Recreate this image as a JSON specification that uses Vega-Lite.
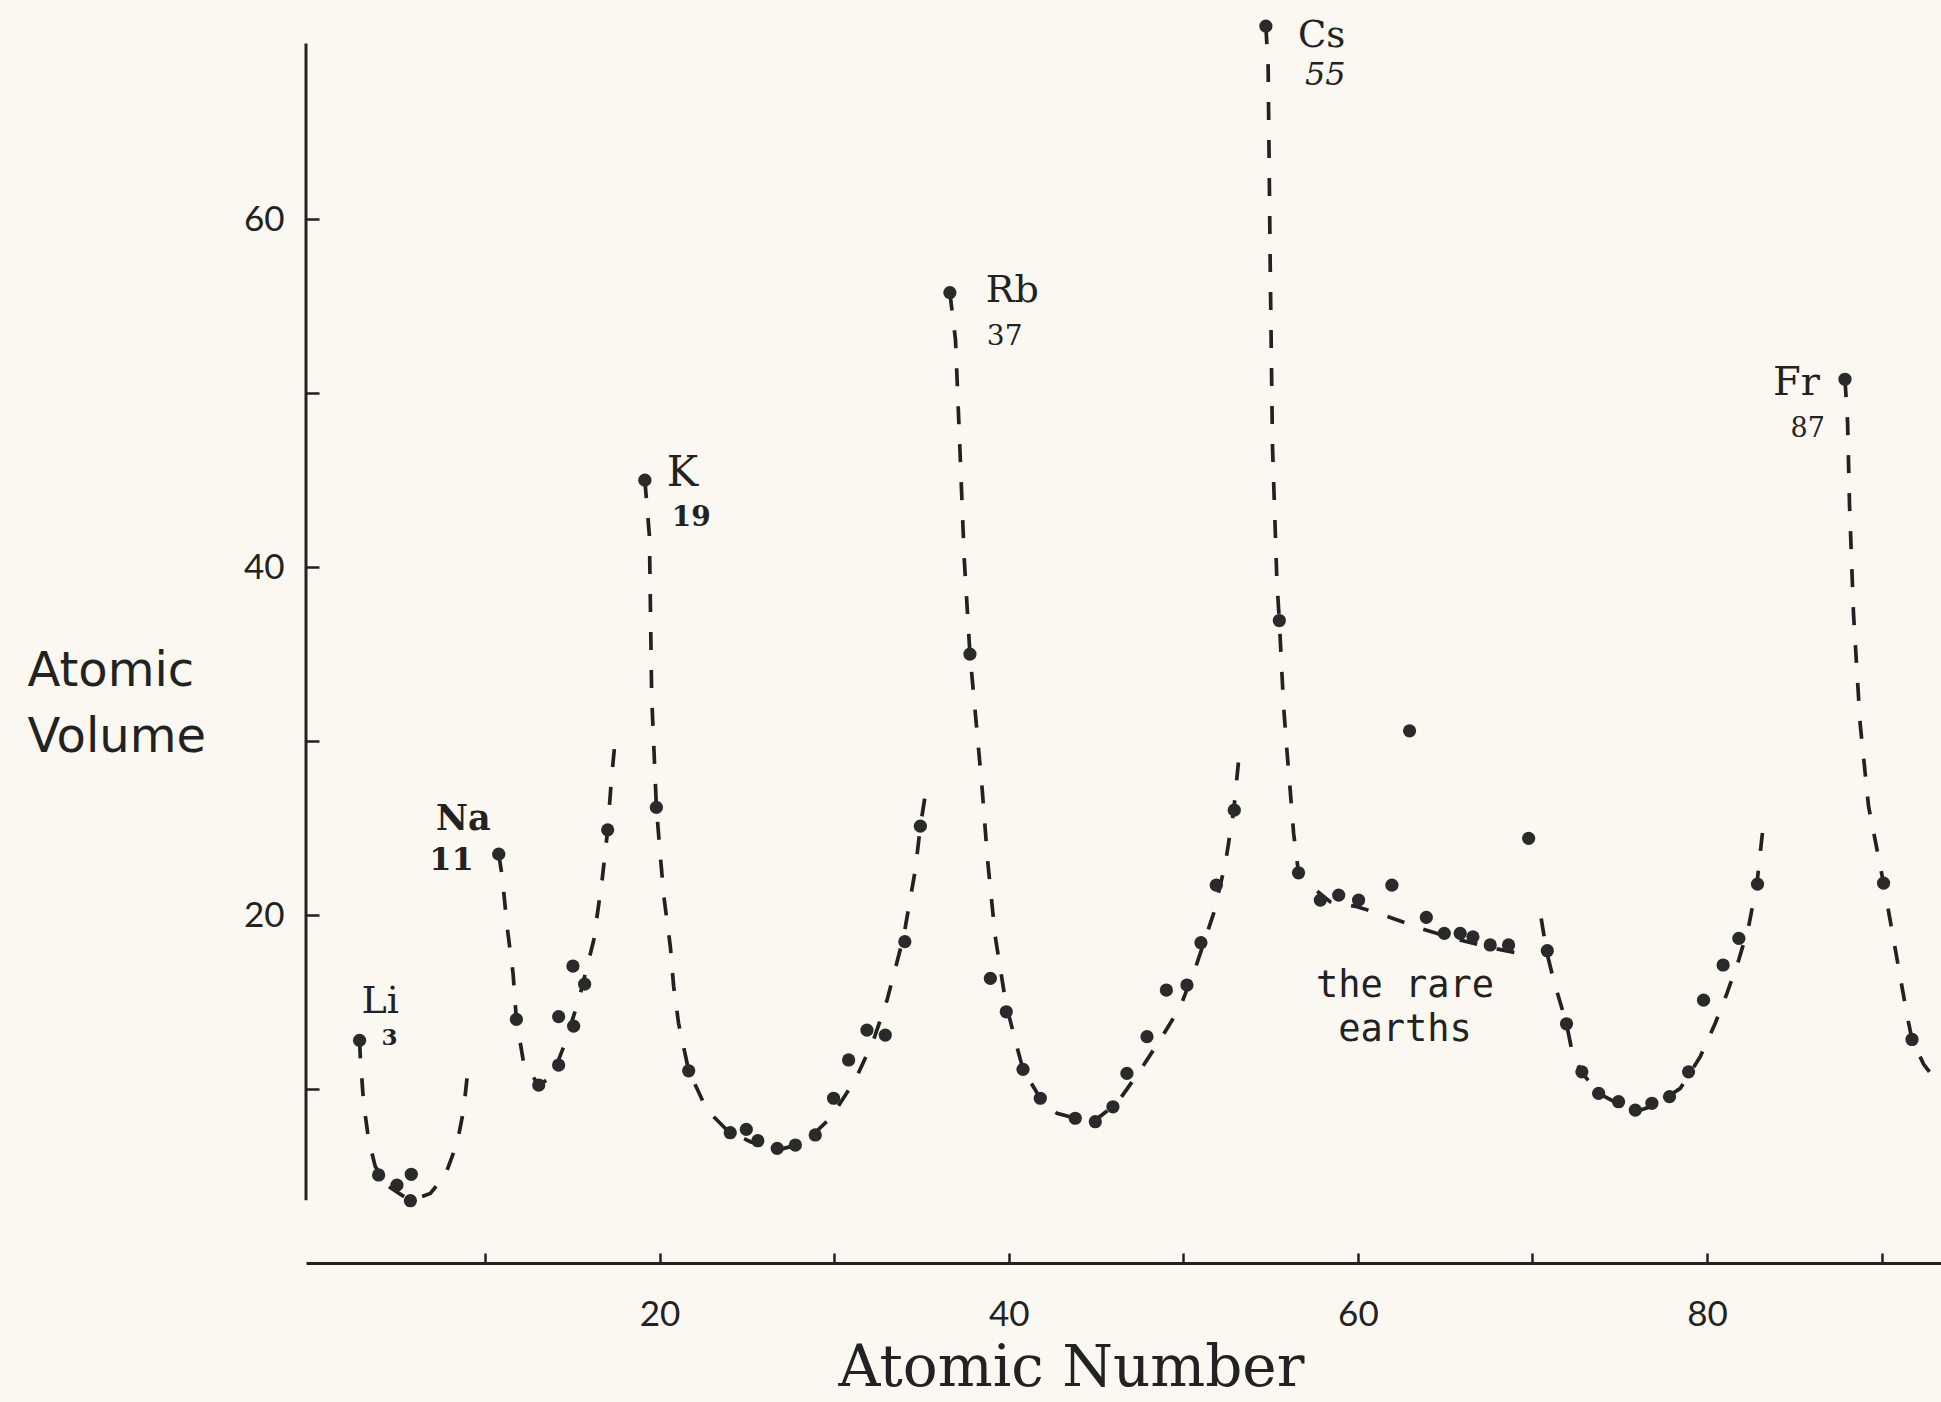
{
  "$schema": "https://vega.github.io/schema/vega-lite/v6.json",
  "width": 1635,
  "height": 1263,
  "autosize": {"type": "none"},
  "padding": {"left": 306, "top": 0, "right": 0, "bottom": 139},
  "background": "#faf8f0",
  "config": {"view": {"stroke": null}, "axis": {"grid": false}, "text": {"font": "DejaVu Serif", "color": "#222222", "baseline": "alphabetic"}},
  "datasets": {
    "points": [
      {"z": 2.82, "v": 12.8}, {"z": 3.91, "v": 5.06}, {"z": 4.96, "v": 4.48}, {"z": 5.78, "v": 5.1}, {"z": 5.73, "v": 3.58},
      {"z": 10.79, "v": 23.5}, {"z": 11.8, "v": 14.0}, {"z": 13.08, "v": 10.23}, {"z": 14.22, "v": 11.38}, {"z": 14.22, "v": 14.16},
      {"z": 15.08, "v": 13.62}, {"z": 15.04, "v": 17.07}, {"z": 15.71, "v": 16.03}, {"z": 17.03, "v": 24.9},
      {"z": 19.16, "v": 45.0}, {"z": 19.82, "v": 26.19}, {"z": 21.67, "v": 11.05}, {"z": 24.05, "v": 7.49}, {"z": 24.97, "v": 7.68},
      {"z": 25.63, "v": 7.03}, {"z": 26.74, "v": 6.59}, {"z": 27.78, "v": 6.78}, {"z": 28.92, "v": 7.36}, {"z": 29.97, "v": 9.47},
      {"z": 30.83, "v": 11.67}, {"z": 31.88, "v": 13.39}, {"z": 32.93, "v": 13.1}, {"z": 34.05, "v": 18.47}, {"z": 34.94, "v": 25.11},
      {"z": 36.63, "v": 55.78}, {"z": 37.78, "v": 35.0}, {"z": 38.95, "v": 16.36}, {"z": 39.86, "v": 14.44}, {"z": 40.82, "v": 11.13},
      {"z": 41.81, "v": 9.47}, {"z": 43.81, "v": 8.32}, {"z": 44.96, "v": 8.12}, {"z": 45.97, "v": 8.98}, {"z": 46.77, "v": 10.9},
      {"z": 47.92, "v": 13.01}, {"z": 49.03, "v": 15.69}, {"z": 50.21, "v": 15.98}, {"z": 51.01, "v": 18.41}, {"z": 51.89, "v": 21.72},
      {"z": 52.92, "v": 26.03},
      {"z": 54.73, "v": 71.1}, {"z": 55.5, "v": 36.93}, {"z": 56.6, "v": 22.43}, {"z": 57.85, "v": 20.86}, {"z": 58.9, "v": 21.15},
      {"z": 60.04, "v": 20.86}, {"z": 61.95, "v": 21.72}, {"z": 62.96, "v": 30.59}, {"z": 63.92, "v": 19.87}, {"z": 64.95, "v": 18.95},
      {"z": 65.86, "v": 18.95}, {"z": 66.59, "v": 18.75}, {"z": 67.58, "v": 18.28}, {"z": 68.63, "v": 18.28}, {"z": 69.78, "v": 24.41},
      {"z": 70.85, "v": 17.95}, {"z": 71.95, "v": 13.75}, {"z": 72.83, "v": 10.99}, {"z": 73.79, "v": 9.75}, {"z": 74.93, "v": 9.27},
      {"z": 75.89, "v": 8.79}, {"z": 76.84, "v": 9.18}, {"z": 77.85, "v": 9.56}, {"z": 78.94, "v": 10.99}, {"z": 79.8, "v": 15.11},
      {"z": 80.92, "v": 17.13}, {"z": 81.82, "v": 18.66}, {"z": 82.89, "v": 21.78},
      {"z": 87.9, "v": 50.8}, {"z": 90.11, "v": 21.84}, {"z": 91.74, "v": 12.85}
    ],
    "curves": [
      {"seg": "Li", "i": 0, "z": 2.82, "v": 12.8}, {"seg": "Li", "i": 1, "z": 2.86, "v": 11.86}, {"seg": "Li", "i": 2, "z": 3.05, "v": 9.18},
      {"seg": "Li", "i": 3, "z": 3.34, "v": 7.07}, {"seg": "Li", "i": 4, "z": 3.72, "v": 5.54}, {"seg": "Li", "i": 5, "z": 4.49, "v": 4.39},
      {"seg": "Li", "i": 6, "z": 5.73, "v": 3.58}, {"seg": "Li", "i": 7, "z": 6.87, "v": 4.0}, {"seg": "Li", "i": 8, "z": 7.73, "v": 5.06},
      {"seg": "Li", "i": 9, "z": 8.4, "v": 6.88}, {"seg": "Li", "i": 10, "z": 8.78, "v": 8.79}, {"seg": "Li", "i": 11, "z": 9.01, "v": 10.99},
      {"seg": "Na", "i": 0, "z": 10.79, "v": 23.5}, {"seg": "Na", "i": 1, "z": 10.99, "v": 22.2}, {"seg": "Na", "i": 2, "z": 11.27, "v": 19.33},
      {"seg": "Na", "i": 3, "z": 11.61, "v": 16.65}, {"seg": "Na", "i": 4, "z": 11.8, "v": 14.0}, {"seg": "Na", "i": 5, "z": 12.22, "v": 11.48},
      {"seg": "Na", "i": 6, "z": 13.08, "v": 10.23}, {"seg": "Na", "i": 7, "z": 13.84, "v": 10.71}, {"seg": "Na", "i": 8, "z": 14.51, "v": 12.43},
      {"seg": "Na", "i": 9, "z": 15.37, "v": 15.11}, {"seg": "Na", "i": 10, "z": 16.23, "v": 18.56}, {"seg": "Na", "i": 11, "z": 16.71, "v": 22.0},
      {"seg": "Na", "i": 12, "z": 17.03, "v": 24.9}, {"seg": "Na", "i": 13, "z": 17.24, "v": 27.76}, {"seg": "Na", "i": 14, "z": 17.41, "v": 29.54},
      {"seg": "K", "i": 0, "z": 19.16, "v": 45.0}, {"seg": "K", "i": 1, "z": 19.42, "v": 41.8}, {"seg": "K", "i": 2, "z": 19.55, "v": 32.56},
      {"seg": "K", "i": 3, "z": 19.82, "v": 26.19}, {"seg": "K", "i": 4, "z": 20.05, "v": 23.35}, {"seg": "K", "i": 5, "z": 20.25, "v": 21.05},
      {"seg": "K", "i": 6, "z": 20.62, "v": 18.18}, {"seg": "K", "i": 7, "z": 20.81, "v": 15.88}, {"seg": "K", "i": 8, "z": 21.09, "v": 13.78},
      {"seg": "K", "i": 9, "z": 21.67, "v": 11.05}, {"seg": "K", "i": 10, "z": 22.72, "v": 8.79}, {"seg": "K", "i": 11, "z": 23.86, "v": 7.64},
      {"seg": "K", "i": 12, "z": 25.2, "v": 6.97}, {"seg": "K", "i": 13, "z": 26.73, "v": 6.49}, {"seg": "K", "i": 14, "z": 28.26, "v": 6.88},
      {"seg": "K", "i": 15, "z": 29.78, "v": 8.32}, {"seg": "K", "i": 16, "z": 31.21, "v": 10.52}, {"seg": "K", "i": 17, "z": 32.26, "v": 12.82},
      {"seg": "K", "i": 18, "z": 33.03, "v": 15.11}, {"seg": "K", "i": 19, "z": 33.98, "v": 18.75}, {"seg": "K", "i": 20, "z": 34.65, "v": 22.59},
      {"seg": "K", "i": 21, "z": 34.94, "v": 25.11}, {"seg": "K", "i": 22, "z": 35.28, "v": 27.28},
      {"seg": "Rb", "i": 0, "z": 36.63, "v": 55.78}, {"seg": "Rb", "i": 1, "z": 36.95, "v": 53.09}, {"seg": "Rb", "i": 2, "z": 37.2, "v": 46.93},
      {"seg": "Rb", "i": 3, "z": 37.45, "v": 40.52}, {"seg": "Rb", "i": 4, "z": 37.78, "v": 35.0}, {"seg": "Rb", "i": 5, "z": 38.47, "v": 27.37},
      {"seg": "Rb", "i": 6, "z": 38.79, "v": 23.16}, {"seg": "Rb", "i": 7, "z": 39.23, "v": 18.75}, {"seg": "Rb", "i": 8, "z": 39.84, "v": 14.9},
      {"seg": "Rb", "i": 9, "z": 40.47, "v": 12.43}, {"seg": "Rb", "i": 10, "z": 40.82, "v": 11.13}, {"seg": "Rb", "i": 11, "z": 41.81, "v": 9.47},
      {"seg": "Rb", "i": 12, "z": 42.77, "v": 8.6}, {"seg": "Rb", "i": 13, "z": 43.81, "v": 8.32}, {"seg": "Rb", "i": 14, "z": 44.96, "v": 8.22},
      {"seg": "Rb", "i": 15, "z": 46.2, "v": 9.18}, {"seg": "Rb", "i": 16, "z": 47.54, "v": 11.09}, {"seg": "Rb", "i": 17, "z": 48.78, "v": 13.0},
      {"seg": "Rb", "i": 18, "z": 49.83, "v": 14.73}, {"seg": "Rb", "i": 19, "z": 50.78, "v": 17.22}, {"seg": "Rb", "i": 20, "z": 51.74, "v": 20.1},
      {"seg": "Rb", "i": 21, "z": 52.41, "v": 22.97}, {"seg": "Rb", "i": 22, "z": 52.89, "v": 26.03}, {"seg": "Rb", "i": 23, "z": 53.17, "v": 28.91},
      {"seg": "Cs", "i": 0, "z": 54.73, "v": 71.1}, {"seg": "Cs", "i": 1, "z": 54.86, "v": 68.74}, {"seg": "Cs", "i": 2, "z": 54.98, "v": 57.2},
      {"seg": "Cs", "i": 3, "z": 55.11, "v": 46.93}, {"seg": "Cs", "i": 4, "z": 55.36, "v": 39.23}, {"seg": "Cs", "i": 5, "z": 55.5, "v": 36.93},
      {"seg": "Cs", "i": 6, "z": 55.74, "v": 32.07}, {"seg": "Cs", "i": 7, "z": 55.94, "v": 29.39}, {"seg": "Cs", "i": 8, "z": 56.13, "v": 27.09},
      {"seg": "Cs", "i": 9, "z": 56.32, "v": 24.69}, {"seg": "Cs", "i": 10, "z": 56.6, "v": 22.43}, {"seg": "Cs", "i": 11, "z": 57.47, "v": 21.53},
      {"seg": "Cs", "i": 12, "z": 58.42, "v": 20.76}, {"seg": "Cs", "i": 13, "z": 59.95, "v": 20.48}, {"seg": "Cs", "i": 14, "z": 61.47, "v": 20.0},
      {"seg": "Cs", "i": 15, "z": 63.57, "v": 19.24}, {"seg": "Cs", "i": 16, "z": 65.48, "v": 18.66}, {"seg": "Cs", "i": 17, "z": 67.77, "v": 18.09},
      {"seg": "Cs", "i": 18, "z": 70.06, "v": 17.64},
      {"seg": "Lu", "i": 0, "z": 70.5, "v": 19.8}, {"seg": "Lu", "i": 1, "z": 70.8, "v": 17.95}, {"seg": "Lu", "i": 2, "z": 71.21, "v": 16.26},
      {"seg": "Lu", "i": 3, "z": 71.95, "v": 13.75}, {"seg": "Lu", "i": 4, "z": 72.3, "v": 12.0}, {"seg": "Lu", "i": 5, "z": 72.83, "v": 10.95},
      {"seg": "Lu", "i": 6, "z": 73.79, "v": 9.75}, {"seg": "Lu", "i": 7, "z": 75.03, "v": 9.08}, {"seg": "Lu", "i": 8, "z": 75.89, "v": 8.69},
      {"seg": "Lu", "i": 9, "z": 77.03, "v": 9.08}, {"seg": "Lu", "i": 10, "z": 78.47, "v": 10.04}, {"seg": "Lu", "i": 11, "z": 79.61, "v": 11.86},
      {"seg": "Lu", "i": 12, "z": 80.47, "v": 13.78}, {"seg": "Lu", "i": 13, "z": 81.14, "v": 15.5}, {"seg": "Lu", "i": 14, "z": 81.81, "v": 17.41},
      {"seg": "Lu", "i": 15, "z": 82.38, "v": 19.33}, {"seg": "Lu", "i": 16, "z": 82.86, "v": 21.84}, {"seg": "Lu", "i": 17, "z": 83.2, "v": 24.98},
      {"seg": "Fr", "i": 0, "z": 87.9, "v": 50.8}, {"seg": "Fr", "i": 1, "z": 88.05, "v": 48.31}, {"seg": "Fr", "i": 2, "z": 88.16, "v": 43.59},
      {"seg": "Fr", "i": 3, "z": 88.39, "v": 37.28}, {"seg": "Fr", "i": 4, "z": 88.77, "v": 30.98}, {"seg": "Fr", "i": 5, "z": 89.25, "v": 26.25},
      {"seg": "Fr", "i": 6, "z": 90.11, "v": 21.84}, {"seg": "Fr", "i": 7, "z": 90.78, "v": 18.05}, {"seg": "Fr", "i": 8, "z": 91.45, "v": 14.27},
      {"seg": "Fr", "i": 9, "z": 91.74, "v": 12.85}, {"seg": "Fr", "i": 10, "z": 92.4, "v": 11.43}, {"seg": "Fr", "i": 11, "z": 93.36, "v": 10.17},
      {"seg": "Fr", "i": 12, "z": 94.2, "v": 9.6}
    ],
    "labels": [
      {"symbol": "Li", "number": "3", "z": 2.82, "v": 12.8},
      {"symbol": "Na", "number": "11", "z": 10.79, "v": 23.5},
      {"symbol": "K", "number": "19", "z": 19.16, "v": 45.0},
      {"symbol": "Rb", "number": "37", "z": 36.63, "v": 55.78},
      {"symbol": "Cs", "number": "55", "z": 54.73, "v": 71.1},
      {"symbol": "Fr", "number": "87", "z": 87.9, "v": 50.8}
    ]
  },
  "layer": [
    {
      "encoding": {
        "x": {
          "field": "z", "type": "quantitative",
          "scale": {"domain": [-0.25, 93.4], "nice": false, "zero": false},
          "axis": {
            "values": [10, 20, 30, 40, 50, 60, 70, 80, 90],
            "labelExpr": "datum.value % 20 === 0 ? datum.label : ''",
            "labelOverlap": false,
            "domainColor": "#222222", "domainWidth": 3,
            "tickColor": "#222222", "tickWidth": 2.5, "tickSize": -10,
            "labelFont": "Lato", "labelFontSize": 35, "labelColor": "#222222", "labelPadding": 44,
            "title": "Atomic Number", "titleFont": "DejaVu Serif", "titleFontSize": 58, "titleFontWeight": "normal",
            "titleColor": "#222222", "titleX": 765, "titleY": 122, "titleAlign": "center", "titleBaseline": "alphabetic"
          }
        },
        "y": {
          "field": "v", "type": "quantitative",
          "scale": {"domain": [0, 72.6], "nice": false, "zero": false},
          "axis": {
            "values": [10, 20, 30, 40, 50, 60],
            "labelExpr": "datum.value % 20 === 0 ? datum.label : ''",
            "labelOverlap": false,
            "domain": false,
            "tickColor": "#222222", "tickWidth": 2.5, "tickSize": -13,
            "labelFont": "Lato", "labelFontSize": 35, "labelColor": "#222222", "labelPadding": 35,
            "title": ["Atomic", "Volume"], "titleAngle": 0, "titleAlign": "left", "titleBaseline": "alphabetic",
            "titleX": -279, "titleY": 685, "titleLineHeight": 66,
            "titleFont": "DejaVu Sans", "titleFontSize": 48, "titleFontWeight": "normal", "titleColor": "#222222"
          }
        }
      },
      "layer": [
        {
          "data": {"name": "curves"},
          "mark": {"type": "line", "color": "#222222", "strokeWidth": 3.7, "strokeDash": [18, 20], "interpolate": "linear", "clip": true},
          "encoding": {"detail": {"field": "seg"}, "order": {"field": "i", "type": "quantitative"}}
        },
        {
          "data": {"name": "points"},
          "mark": {"type": "circle", "size": 175, "color": "#2a2a2a", "opacity": 1}
        },
        {
          "data": {"name": "labels"}, "transform": [{"filter": "datum.symbol === 'Li'"}],
          "mark": {"type": "text", "align": "left", "dx": 2, "dy": -27, "fontSize": 38},
          "encoding": {"text": {"field": "symbol"}}
        },
        {
          "data": {"name": "labels"}, "transform": [{"filter": "datum.symbol === 'Li'"}],
          "mark": {"type": "text", "align": "left", "dx": 22, "dy": 5, "fontSize": 23, "fontWeight": "bold"},
          "encoding": {"text": {"field": "number"}}
        },
        {
          "data": {"name": "labels"}, "transform": [{"filter": "datum.symbol === 'Na'"}],
          "mark": {"type": "text", "align": "right", "dx": -8, "dy": -24, "fontSize": 35, "fontWeight": "bold"},
          "encoding": {"text": {"field": "symbol"}}
        },
        {
          "data": {"name": "labels"}, "transform": [{"filter": "datum.symbol === 'Na'"}],
          "mark": {"type": "text", "align": "right", "dx": -25, "dy": 16, "fontSize": 32, "fontWeight": "bold"},
          "encoding": {"text": {"field": "number"}}
        },
        {
          "data": {"name": "labels"}, "transform": [{"filter": "datum.symbol === 'K'"}],
          "mark": {"type": "text", "align": "left", "dx": 22, "dy": 6, "fontSize": 42},
          "encoding": {"text": {"field": "symbol"}}
        },
        {
          "data": {"name": "labels"}, "transform": [{"filter": "datum.symbol === 'K'"}],
          "mark": {"type": "text", "align": "left", "dx": 27, "dy": 46, "fontSize": 28, "fontWeight": "bold"},
          "encoding": {"text": {"field": "number"}}
        },
        {
          "data": {"name": "labels"}, "transform": [{"filter": "datum.symbol === 'Rb'"}],
          "mark": {"type": "text", "align": "left", "dx": 36, "dy": 9, "fontSize": 38},
          "encoding": {"text": {"field": "symbol"}}
        },
        {
          "data": {"name": "labels"}, "transform": [{"filter": "datum.symbol === 'Rb'"}],
          "mark": {"type": "text", "align": "left", "dx": 37, "dy": 52, "fontSize": 28},
          "encoding": {"text": {"field": "number"}}
        },
        {
          "data": {"name": "labels"}, "transform": [{"filter": "datum.symbol === 'Cs'"}],
          "mark": {"type": "text", "align": "left", "dx": 32, "dy": 21, "fontSize": 37},
          "encoding": {"text": {"field": "symbol"}}
        },
        {
          "data": {"name": "labels"}, "transform": [{"filter": "datum.symbol === 'Cs'"}],
          "mark": {"type": "text", "align": "left", "dx": 39, "dy": 59, "fontSize": 32, "fontStyle": "italic"},
          "encoding": {"text": {"field": "number"}}
        },
        {
          "data": {"name": "labels"}, "transform": [{"filter": "datum.symbol === 'Fr'"}],
          "mark": {"type": "text", "align": "right", "dx": -25, "dy": 16, "fontSize": 40},
          "encoding": {"text": {"field": "symbol"}}
        },
        {
          "data": {"name": "labels"}, "transform": [{"filter": "datum.symbol === 'Fr'"}],
          "mark": {"type": "text", "align": "right", "dx": -20, "dy": 58, "fontSize": 27},
          "encoding": {"text": {"field": "number"}}
        }
      ]
    },
    {
      "data": {"values": [{}]},
      "mark": {"type": "rule", "color": "#222222", "strokeWidth": 3},
      "encoding": {
        "x": {"datum": -0.25, "type": "quantitative"},
        "y": {"datum": 3.6, "type": "quantitative"},
        "y2": {"datum": 70.1}
      }
    },
    {
      "data": {"values": [{}]},
      "mark": {"type": "text", "text": ["the rare", "earths"], "align": "center", "baseline": "alphabetic", "lineHeight": 44, "font": "DejaVu Sans Mono", "fontSize": 37, "color": "#222222"},
      "encoding": {
        "x": {"datum": 62.7, "type": "quantitative"},
        "y": {"datum": 15.3, "type": "quantitative"}
      }
    }
  ]
}
